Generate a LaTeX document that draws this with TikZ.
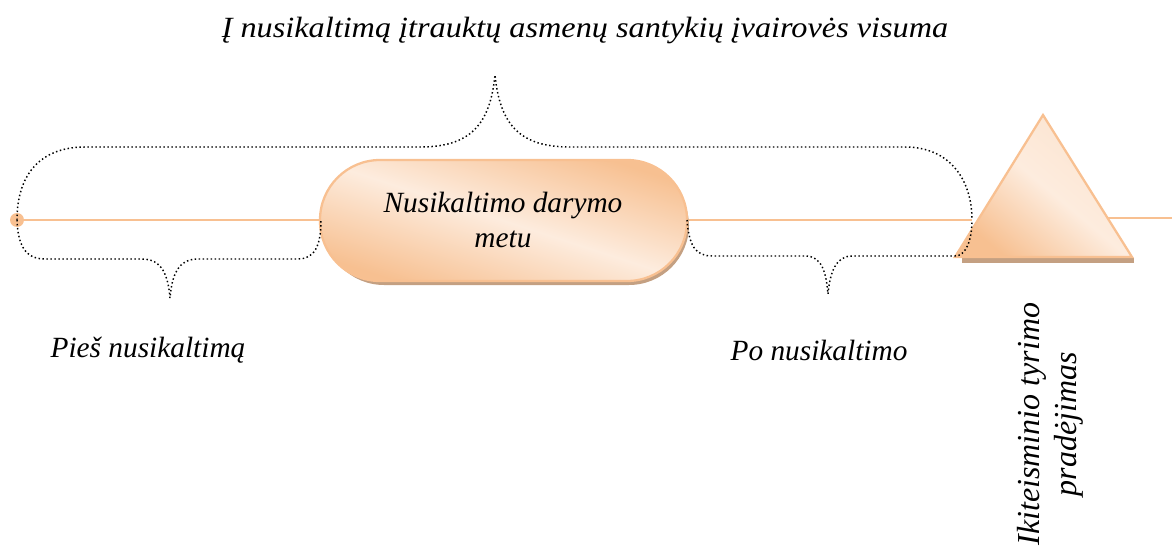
\documentclass[tikz,border=0pt]{standalone}
\usepackage{fontspec}
\setmainfont{Liberation Serif}
\usetikzlibrary{shapes.misc}
\definecolor{lineor}{RGB}{248,192,145}
\definecolor{lightor}{RGB}{253,236,222}
\definecolor{darkor}{RGB}{247,192,145}
\definecolor{shadowc}{RGB}{196,160,130}
\tikzset{
  timeline/.style={draw=lineor, line width=1.9pt},
  bracepath/.style={draw=black, line width=1.1pt, dash pattern=on 1.1pt off 1.9pt},
  lbl/.style={font=\fontsize{22}{26}\selectfont\itshape, align=center, inner sep=0pt},
}
\begin{document}
\begin{tikzpicture}[x=0.75pt, y=-0.75pt]
\useasboundingbox (0,0) rectangle (1172,546);
% coordinates
\coordinate (start) at (17,220);
\coordinate (pillL) at (321,220);
\coordinate (pillR) at (687,220);
\coordinate (triL) at (972,220);
\coordinate (triR) at (1108,218);
\coordinate (fin) at (1172,218);
% timeline
\draw[timeline] (start) -- (pillL);
\draw[timeline] (pillR) -- (triL);
\draw[timeline] (triR) -- (fin);
\fill[lineor] (start) circle (7);
% pill shadow and body
\fill[shadowc] (324,166) [rounded corners=45pt] rectangle (689,285);
\shade[rounded corners=45pt, shading=axis, top color=darkor, bottom color=darkor, middle color=lightor, shading angle=-18]
  (320,160) rectangle (687,281);
\draw[lineor, line width=1.7pt, rounded corners=45pt] (320,160) rectangle (687,281);
\node[lbl] (pill) at (503,220) {Nusikaltimo darymo\\metu};
% triangle
\fill[shadowc] (962,258) rectangle (1134,263);
\shade[shading=axis, top color=lightor!80!darkor, bottom color=darkor, middle color=lightor, shading angle=-40]
  (1043,115) -- (1132,257) -- (955,257) -- cycle;
\draw[lineor, line width=1.7pt, line join=miter] (1043,115) -- (1132,257) -- (955,257) -- cycle;
% braces
\draw[bracepath] (start) .. controls (17,175) and (40,147) .. (85,147) -- (420,147)
  .. controls (470,147) and (490,125) .. (495,75)
  .. controls (500,125) and (520,147) .. (570,147) -- (905,147)
  .. controls (950,147) and (972,180) .. (triL);
\draw[bracepath] (start) .. controls (18,245) and (25,259) .. (45,259) -- (142,259)
  .. controls (162,259) and (168,275) .. (170,298)
  .. controls (172,275) and (178,259) .. (198,259) -- (298,259)
  .. controls (315,259) and (321,245) .. (pillL);
\draw[bracepath] (pillR) .. controls (689,245) and (695,256) .. (712,256) -- (805,256)
  .. controls (822,256) and (826,272) .. (828,294)
  .. controls (830,272) and (836,256) .. (852,256) -- (955,256)
  .. controls (966,256) and (972,240) .. (triL);
% labels
\node[lbl] (title) at (585,30) {\scalebox{1.1}[1]{Į nusikaltimą įtrauktų asmenų santykių įvairovės visuma}};
\node[lbl] (before) at (148,350) {Pieš nusikaltimą};
\node[lbl] (after) at (819,350) {Po nusikaltimo};
\node[lbl, rotate=90, font=\fontsize{24}{28}\selectfont\itshape] (start2) at (1050,424) {Ikiteisminio tyrimo\\pradėjimas};
\end{tikzpicture}
\end{document}
